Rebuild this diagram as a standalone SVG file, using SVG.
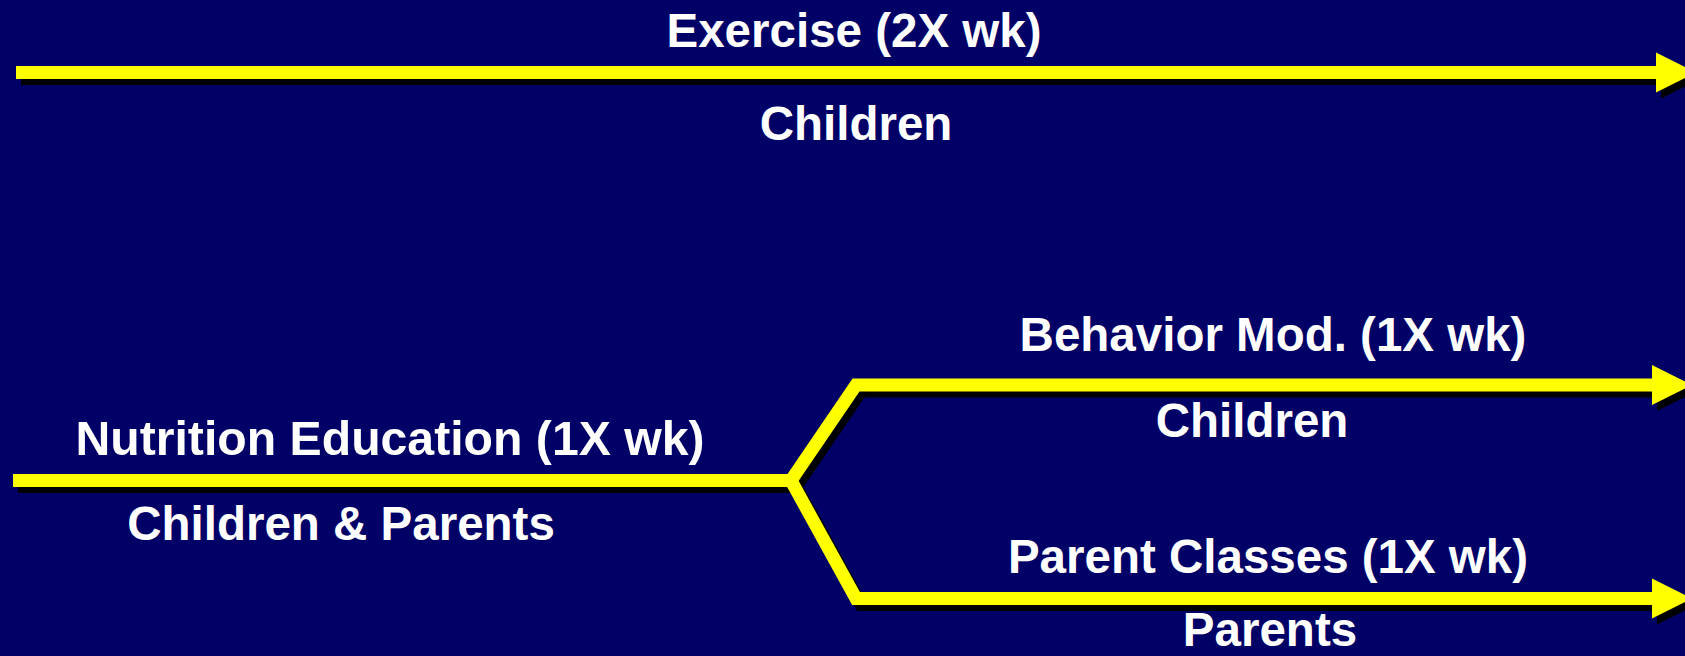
<svg xmlns="http://www.w3.org/2000/svg" width="1685" height="656" viewBox="0 0 1685 656">
  <style>
    .bg { fill: #000066; }
    .line { fill: none; stroke-width: 13; stroke-linejoin: miter; stroke-miterlimit: 10; }
    .yl { stroke: #ffff00; }
    .sh { stroke: #000000; }
    .hy { fill: #ffff00; }
    .hs { fill: #000000; }
    .lbl { font-family: "Liberation Sans", Arial, sans-serif; font-weight: bold; font-size: 47.5px; fill: #ffffff; text-anchor: middle; }
  </style>
  <rect class="bg" x="0" y="0" width="1685" height="656"/>
  <g id="connectors">
    <g id="shadows" transform="translate(5,6)">
      <path class="line sh" d="M16 72.5 H1660"/>
      <polygon class="hs" points="1656,52.5 1696,72.5 1656,92.5"/>
      <path class="line sh" d="M13 480.5 H791 L856 385 H1656"/>
      <path class="line sh" d="M791 480.5 L856 598.5 H1656"/>
      <polygon class="hs" points="1652,365 1692,385 1652,405"/>
      <polygon class="hs" points="1652,578.5 1692,598.5 1652,618.5"/>
    </g>
    <g id="arrows">
      <path class="line yl" d="M16 72.5 H1660"/>
      <polygon class="hy" points="1656,52.5 1696,72.5 1656,92.5"/>
      <path class="line yl" d="M13 480.5 H791 L856 385 H1656"/>
      <path class="line yl" d="M791 480.5 L856 598.5 H1656"/>
      <polygon class="hy" points="1652,365 1692,385 1652,405"/>
      <polygon class="hy" points="1652,578.5 1692,598.5 1652,618.5"/>
    </g>
  </g>
  <g id="node-exercise">
    <text class="lbl" x="854" y="47">Exercise (2X wk)</text>
    <text class="lbl" x="856" y="140">Children</text>
  </g>
  <g id="node-nutrition">
    <text class="lbl" x="390" y="454.5" style="font-size:48.2px">Nutrition Education (1X wk)</text>
    <text class="lbl" x="341" y="540">Children &amp; Parents</text>
  </g>
  <g id="node-behavior">
    <text class="lbl" x="1273" y="351">Behavior Mod. (1X wk)</text>
    <text class="lbl" x="1252" y="437">Children</text>
  </g>
  <g id="node-parent">
    <text class="lbl" x="1268" y="573">Parent Classes (1X wk)</text>
    <text class="lbl" x="1270" y="646">Parents</text>
  </g>
</svg>
